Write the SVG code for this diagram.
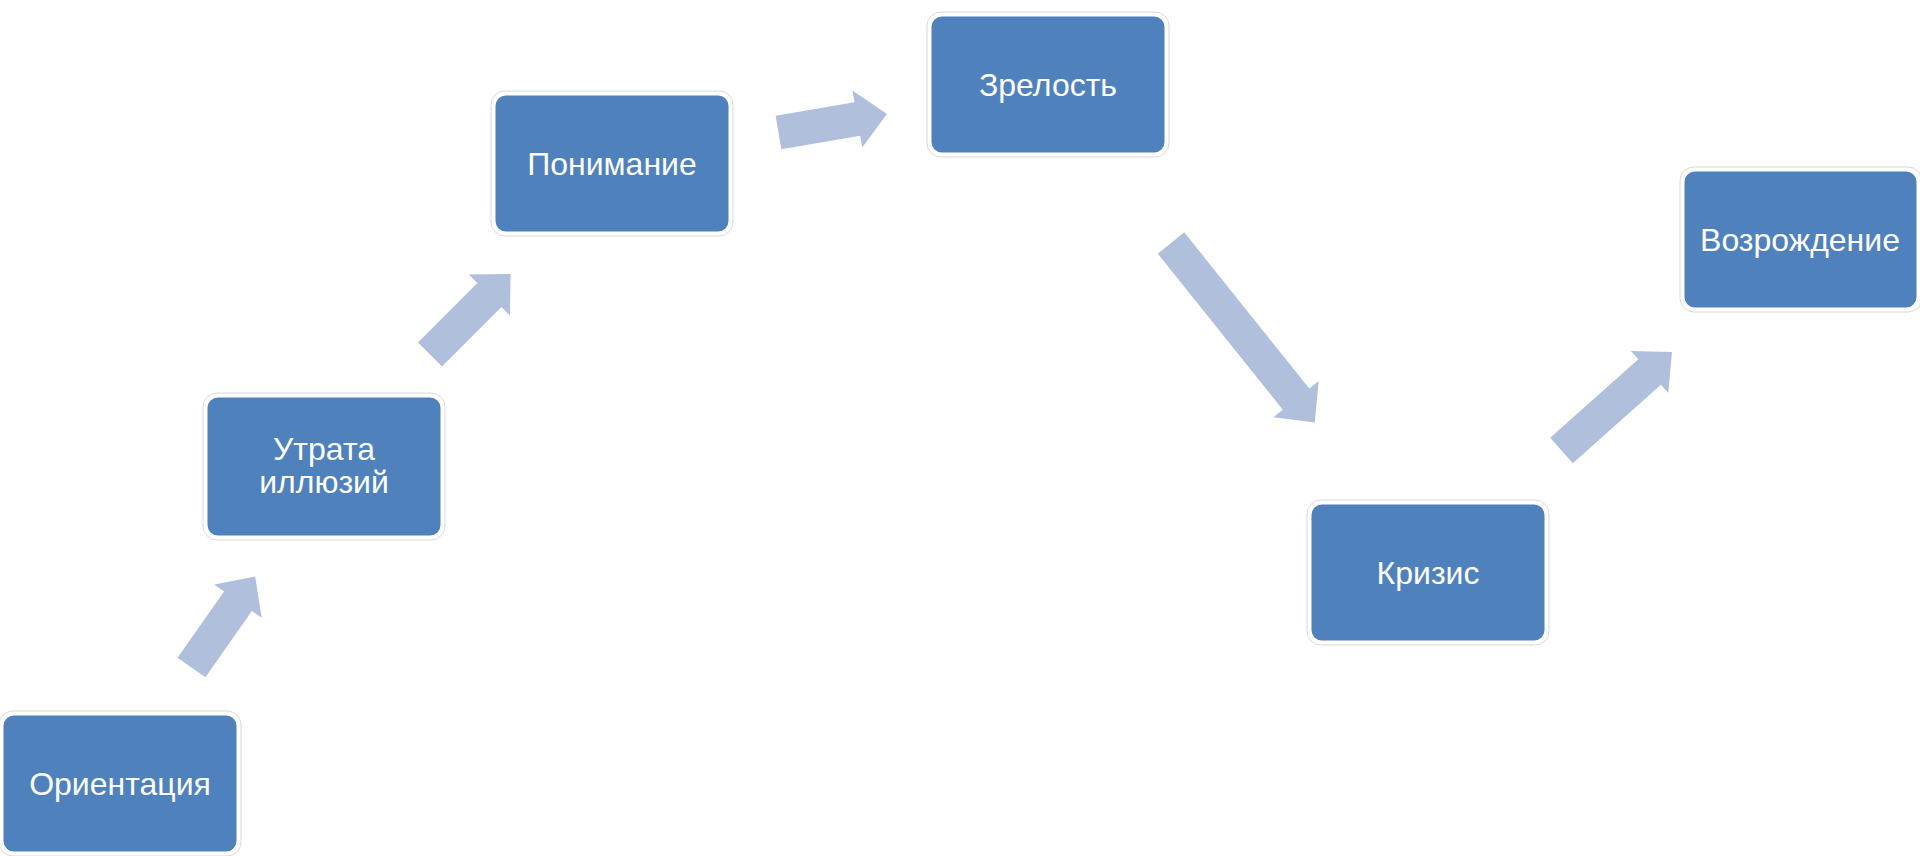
<svg xmlns="http://www.w3.org/2000/svg" width="1920" height="856" viewBox="0 0 1920 856">
<style>
.box{fill:#4f81bd;stroke:#ffffff;stroke-width:3}
.halo{fill:none;stroke:#d9d9d9;stroke-width:1}
.lbl{font-family:"Liberation Sans",Arial,sans-serif;font-size:32px;fill:#ffffff;text-anchor:middle}
.arr{fill:#b0c0dc}
</style>
<rect width="1920" height="856" fill="#ffffff"/>
<g id="connectors">
<path class="arr" transform="translate(191.5,667.5) rotate(-55)" d="M0,-17 L81,-17 L81,-29 L111,0 L81,29 L81,17 L0,17 Z"/>
<path class="arr" transform="translate(430,354.5) rotate(-45)" d="M0,-17 L84,-17 L84,-29 L114,0 L84,29 L84,17 L0,17 Z"/>
<path class="arr" transform="translate(778.5,132.5) rotate(-9.7)" d="M0,-17 L80,-17 L80,-29 L110,0 L80,29 L80,17 L0,17 Z"/>
<path class="arr" transform="translate(1171,243) rotate(51.3)" d="M0,-17 L200,-17 L200,-29 L230,0 L200,29 L200,17 L0,17 Z"/>
<path class="arr" transform="translate(1561.5,450.5) rotate(-41.7)" d="M0,-17 L118,-17 L118,-28 L148,0 L118,28 L118,17 L0,17 Z"/>
</g>
<g id="n1">
<rect class="halo" x="-1" y="711" width="242" height="145" rx="14"/>
<rect class="box" x="2" y="714" width="236" height="139" rx="12"/>
<text class="lbl" x="120" y="795">Ориентация</text>
</g>
<g id="n2">
<rect class="halo" x="203" y="393" width="242" height="147" rx="14"/>
<rect class="box" x="206" y="396" width="236" height="141" rx="12"/>
<text class="lbl" x="324" y="460">Утрата</text>
<text class="lbl" x="324" y="493">иллюзий</text>
</g>
<g id="n3">
<rect class="halo" x="491" y="91" width="242" height="145" rx="14"/>
<rect class="box" x="494" y="94" width="236" height="139" rx="12"/>
<text class="lbl" x="612" y="175">Понимание</text>
</g>
<g id="n4">
<rect class="halo" x="927" y="12" width="242" height="145" rx="14"/>
<rect class="box" x="930" y="15" width="236" height="139" rx="12"/>
<text class="lbl" x="1048" y="96">Зрелость</text>
</g>
<g id="n5">
<rect class="halo" x="1307" y="500" width="242" height="145" rx="14"/>
<rect class="box" x="1310" y="503" width="236" height="139" rx="12"/>
<text class="lbl" x="1428" y="584">Кризис</text>
</g>
<g id="n6">
<rect class="halo" x="1680" y="167" width="242" height="145" rx="14"/>
<rect class="box" x="1683" y="170" width="235" height="139" rx="12"/>
<text class="lbl" x="1800" y="251">Возрождение</text>
</g>
</svg>
